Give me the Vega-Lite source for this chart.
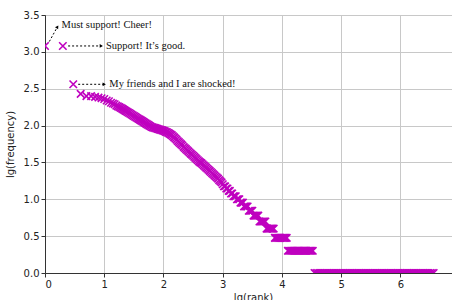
{
  "$schema": "https://vega.github.io/schema/vega-lite/v6.json",
  "width": 407,
  "height": 258,
  "autosize": {"type": "none"},
  "padding": {"left": 45, "top": 15, "right": 0, "bottom": 27},
  "config": {
    "view": {"stroke": "#333", "strokeWidth": 1},
    "axis": {
      "labelFont": "DejaVu Sans", "labelFontSize": 10, "labelColor": "#222",
      "titleFont": "DejaVu Sans", "titleFontSize": 10, "titleFontWeight": "normal", "titleColor": "#222",
      "domainColor": "#333", "tickColor": "#333", "tickSize": 4, "labelPadding": 2,
      "gridColor": "#c8c8c8", "gridWidth": 1
    }
  },
  "datasets": {
    "pts": [
      {"x": 0, "y": 3.08}, {"x": 0.301, "y": 3.08}, {"x": 0.477, "y": 2.56},
      {"x": 0.602, "y": 2.43}, {"x": 0.699, "y": 2.40}, {"x": 0.778, "y": 2.40}, {"x": 0.845, "y": 2.39},
      {"x": 0.903, "y": 2.38}, {"x": 0.954, "y": 2.37}, {"x": 1.0, "y": 2.36}, {"x": 1.041, "y": 2.34},
      {"x": 1.079, "y": 2.33}, {"x": 1.114, "y": 2.31}, {"x": 1.146, "y": 2.30}, {"x": 1.176, "y": 2.29},
      {"x": 1.204, "y": 2.27}, {"x": 1.23, "y": 2.26}, {"x": 1.255, "y": 2.25}, {"x": 1.279, "y": 2.24},
      {"x": 1.301, "y": 2.23}, {"x": 1.32, "y": 2.22}, {"x": 1.34, "y": 2.21}, {"x": 1.36, "y": 2.20},
      {"x": 1.38, "y": 2.19}, {"x": 1.40, "y": 2.18}, {"x": 1.42, "y": 2.17}, {"x": 1.44, "y": 2.16},
      {"x": 1.46, "y": 2.15}, {"x": 1.48, "y": 2.14}, {"x": 1.50, "y": 2.13}, {"x": 1.52, "y": 2.12},
      {"x": 1.54, "y": 2.11}, {"x": 1.56, "y": 2.10}, {"x": 1.58, "y": 2.09}, {"x": 1.60, "y": 2.08},
      {"x": 1.62, "y": 2.07}, {"x": 1.64, "y": 2.06}, {"x": 1.66, "y": 2.05}, {"x": 1.68, "y": 2.04},
      {"x": 1.70, "y": 2.03}, {"x": 1.72, "y": 2.02}, {"x": 1.74, "y": 2.01}, {"x": 1.76, "y": 2.00},
      {"x": 1.78, "y": 1.99}, {"x": 1.80, "y": 1.98}, {"x": 1.82, "y": 1.975}, {"x": 1.84, "y": 1.97},
      {"x": 1.86, "y": 1.965}, {"x": 1.88, "y": 1.96}, {"x": 1.90, "y": 1.955}, {"x": 1.92, "y": 1.95},
      {"x": 1.94, "y": 1.945}, {"x": 1.96, "y": 1.94}, {"x": 1.98, "y": 1.935}, {"x": 2.00, "y": 1.93},
      {"x": 2.02, "y": 1.925}, {"x": 2.04, "y": 1.915}, {"x": 2.06, "y": 1.91}, {"x": 2.08, "y": 1.90},
      {"x": 2.10, "y": 1.89}, {"x": 2.12, "y": 1.88}, {"x": 2.14, "y": 1.87}, {"x": 2.16, "y": 1.855},
      {"x": 2.18, "y": 1.84}, {"x": 2.20, "y": 1.825}, {"x": 2.22, "y": 1.81}, {"x": 2.24, "y": 1.79},
      {"x": 2.26, "y": 1.775}, {"x": 2.28, "y": 1.76}, {"x": 2.30, "y": 1.745}, {"x": 2.32, "y": 1.73},
      {"x": 2.34, "y": 1.71}, {"x": 2.36, "y": 1.695}, {"x": 2.38, "y": 1.68}, {"x": 2.40, "y": 1.665},
      {"x": 2.42, "y": 1.65}, {"x": 2.44, "y": 1.635}, {"x": 2.46, "y": 1.62}, {"x": 2.48, "y": 1.605},
      {"x": 2.50, "y": 1.59}, {"x": 2.52, "y": 1.575}, {"x": 2.54, "y": 1.56}, {"x": 2.56, "y": 1.545},
      {"x": 2.58, "y": 1.53}, {"x": 2.60, "y": 1.515}, {"x": 2.62, "y": 1.50}, {"x": 2.64, "y": 1.49},
      {"x": 2.66, "y": 1.475}, {"x": 2.68, "y": 1.46}, {"x": 2.70, "y": 1.445}, {"x": 2.72, "y": 1.43},
      {"x": 2.74, "y": 1.415}, {"x": 2.76, "y": 1.40}, {"x": 2.78, "y": 1.385}, {"x": 2.80, "y": 1.37},
      {"x": 2.82, "y": 1.355}, {"x": 2.84, "y": 1.34}, {"x": 2.86, "y": 1.325}, {"x": 2.88, "y": 1.31},
      {"x": 2.90, "y": 1.295}, {"x": 2.92, "y": 1.28}, {"x": 2.94, "y": 1.26}, {"x": 2.96, "y": 1.245},
      {"x": 2.98, "y": 1.23}, {"x": 3.00, "y": 1.204}, {"x": 3.02, "y": 1.176}, {"x": 3.04, "y": 1.176},
      {"x": 3.06, "y": 1.146}, {"x": 3.08, "y": 1.146}, {"x": 3.10, "y": 1.114}, {"x": 3.12, "y": 1.114},
      {"x": 3.14, "y": 1.079}, {"x": 3.16, "y": 1.079}, {"x": 3.18, "y": 1.041}, {"x": 3.20, "y": 1.041},
      {"x": 3.22, "y": 1.041}, {"x": 3.24, "y": 1.0}, {"x": 3.26, "y": 1.0}, {"x": 3.28, "y": 1.0},
      {"x": 3.30, "y": 0.954}, {"x": 3.32, "y": 0.954}, {"x": 3.34, "y": 0.954},
      {"x": 3.36, "y": 0.903}, {"x": 3.38, "y": 0.903}, {"x": 3.40, "y": 0.903}, {"x": 3.42, "y": 0.903},
      {"x": 3.44, "y": 0.845}, {"x": 3.46, "y": 0.845}, {"x": 3.48, "y": 0.845}, {"x": 3.50, "y": 0.845},
      {"x": 3.52, "y": 0.778}, {"x": 3.54, "y": 0.778}, {"x": 3.56, "y": 0.778}, {"x": 3.58, "y": 0.778}, {"x": 3.60, "y": 0.778},
      {"x": 3.62, "y": 0.699}, {"x": 3.64, "y": 0.699}, {"x": 3.66, "y": 0.699}, {"x": 3.68, "y": 0.699}, {"x": 3.70, "y": 0.699}, {"x": 3.72, "y": 0.699},
      {"x": 3.74, "y": 0.602}, {"x": 3.76, "y": 0.602}, {"x": 3.78, "y": 0.602}, {"x": 3.80, "y": 0.602}, {"x": 3.82, "y": 0.602}, {"x": 3.84, "y": 0.602}, {"x": 3.86, "y": 0.602},
      {"x": 3.88, "y": 0.477}, {"x": 3.90, "y": 0.477}, {"x": 3.92, "y": 0.477}, {"x": 3.94, "y": 0.477}, {"x": 3.96, "y": 0.477}, {"x": 3.98, "y": 0.477},
      {"x": 4.00, "y": 0.477}, {"x": 4.02, "y": 0.477}, {"x": 4.04, "y": 0.477}, {"x": 4.06, "y": 0.477}, {"x": 4.08, "y": 0.477},
      {"x": 4.10, "y": 0.301}, {"x": 4.12, "y": 0.301}, {"x": 4.14, "y": 0.301}, {"x": 4.16, "y": 0.301}, {"x": 4.18, "y": 0.301},
      {"x": 4.20, "y": 0.301}, {"x": 4.22, "y": 0.301}, {"x": 4.24, "y": 0.301}, {"x": 4.26, "y": 0.301}, {"x": 4.28, "y": 0.301},
      {"x": 4.30, "y": 0.301}, {"x": 4.32, "y": 0.301}, {"x": 4.34, "y": 0.301}, {"x": 4.36, "y": 0.301}, {"x": 4.38, "y": 0.301},
      {"x": 4.40, "y": 0.301}, {"x": 4.42, "y": 0.301}, {"x": 4.44, "y": 0.301}, {"x": 4.46, "y": 0.301}, {"x": 4.48, "y": 0.301},
      {"x": 4.50, "y": 0.301}, {"x": 4.52, "y": 0.301},
      {"x": 4.55, "y": 0}, {"x": 4.58, "y": 0}, {"x": 4.61, "y": 0}, {"x": 4.64, "y": 0}, {"x": 4.67, "y": 0},
      {"x": 4.70, "y": 0}, {"x": 4.73, "y": 0}, {"x": 4.76, "y": 0}, {"x": 4.79, "y": 0}, {"x": 4.82, "y": 0},
      {"x": 4.85, "y": 0}, {"x": 4.88, "y": 0}, {"x": 4.91, "y": 0}, {"x": 4.94, "y": 0}, {"x": 4.97, "y": 0},
      {"x": 5.00, "y": 0}, {"x": 5.03, "y": 0}, {"x": 5.06, "y": 0}, {"x": 5.09, "y": 0}, {"x": 5.12, "y": 0},
      {"x": 5.15, "y": 0}, {"x": 5.18, "y": 0}, {"x": 5.21, "y": 0}, {"x": 5.24, "y": 0}, {"x": 5.27, "y": 0},
      {"x": 5.30, "y": 0}, {"x": 5.33, "y": 0}, {"x": 5.36, "y": 0}, {"x": 5.39, "y": 0}, {"x": 5.42, "y": 0},
      {"x": 5.45, "y": 0}, {"x": 5.48, "y": 0}, {"x": 5.51, "y": 0}, {"x": 5.54, "y": 0}, {"x": 5.57, "y": 0},
      {"x": 5.60, "y": 0}, {"x": 5.63, "y": 0}, {"x": 5.66, "y": 0}, {"x": 5.69, "y": 0}, {"x": 5.72, "y": 0},
      {"x": 5.75, "y": 0}, {"x": 5.78, "y": 0}, {"x": 5.81, "y": 0}, {"x": 5.84, "y": 0}, {"x": 5.87, "y": 0},
      {"x": 5.90, "y": 0}, {"x": 5.93, "y": 0}, {"x": 5.96, "y": 0}, {"x": 5.99, "y": 0}, {"x": 6.02, "y": 0},
      {"x": 6.05, "y": 0}, {"x": 6.08, "y": 0}, {"x": 6.11, "y": 0}, {"x": 6.14, "y": 0}, {"x": 6.17, "y": 0},
      {"x": 6.20, "y": 0}, {"x": 6.23, "y": 0}, {"x": 6.26, "y": 0}, {"x": 6.29, "y": 0}, {"x": 6.32, "y": 0},
      {"x": 6.35, "y": 0}, {"x": 6.38, "y": 0}, {"x": 6.41, "y": 0}, {"x": 6.44, "y": 0}, {"x": 6.47, "y": 0},
      {"x": 6.50, "y": 0}, {"x": 6.53, "y": 0}, {"x": 6.56, "y": 0}
    ],
    "arrows": [
      {"x": 0.073, "y": 3.14, "x2": 0.21, "y2": 3.34},
      {"x": 0.39, "y": 3.08, "x2": 0.95, "y2": 3.08},
      {"x": 0.56, "y": 2.56, "x2": 1.0, "y2": 2.56}
    ],
    "heads": [
      {"x": 0.21, "y": 3.34, "ang": 33},
      {"x": 0.95, "y": 3.08, "ang": 90},
      {"x": 1.0, "y": 2.56, "ang": 90}
    ],
    "labels": [
      {"x": 0.28, "y": 3.36, "text": "Must support! Cheer!"},
      {"x": 1.03, "y": 3.08, "text": "Support! It’s good."},
      {"x": 1.086, "y": 2.56, "text": "My friends and I are shocked!"}
    ]
  },
  "encoding": {
    "x": {"field": "x", "type": "quantitative", "scale": {"domain": [0, 6.87], "nice": false, "zero": false},
          "axis": {"title": "lg(rank)", "values": [0, 1, 2, 3, 4, 5, 6], "format": "d", "titleX": 208, "titlePadding": 3}},
    "y": {"field": "y", "type": "quantitative", "scale": {"domain": [0, 3.5], "nice": false, "zero": false},
          "axis": {"title": "lg(frequency)", "values": [0, 0.5, 1, 1.5, 2, 2.5, 3, 3.5], "format": ".1f", "labelOverlap": false, "titlePadding": 8}}
  },
  "layer": [
    {
      "data": {"name": "pts"},
      "mark": {"type": "point", "shape": "M-1,-1L1,1M-1,1L1,-1", "filled": false, "color": "#bf00bf", "strokeWidth": 1.6, "size": 56, "opacity": 1, "clip": true}
    },
    {
      "data": {"name": "arrows"},
      "mark": {"type": "rule", "color": "black", "strokeWidth": 1, "strokeDash": [2, 2]},
      "encoding": {
        "x2": {"field": "x2"},
        "y2": {"field": "y2"}
      }
    },
    {
      "data": {"name": "heads"},
      "mark": {"type": "point", "shape": "triangle-up", "filled": true, "color": "black", "size": 14, "opacity": 1},
      "encoding": {
        "angle": {"field": "ang", "type": "quantitative", "scale": null}
      }
    },
    {
      "data": {"name": "labels"},
      "mark": {"type": "text", "font": "Liberation Serif", "fontSize": 10.5, "align": "left", "baseline": "middle", "color": "#111"},
      "encoding": {
        "text": {"field": "text"}
      }
    }
  ]
}
